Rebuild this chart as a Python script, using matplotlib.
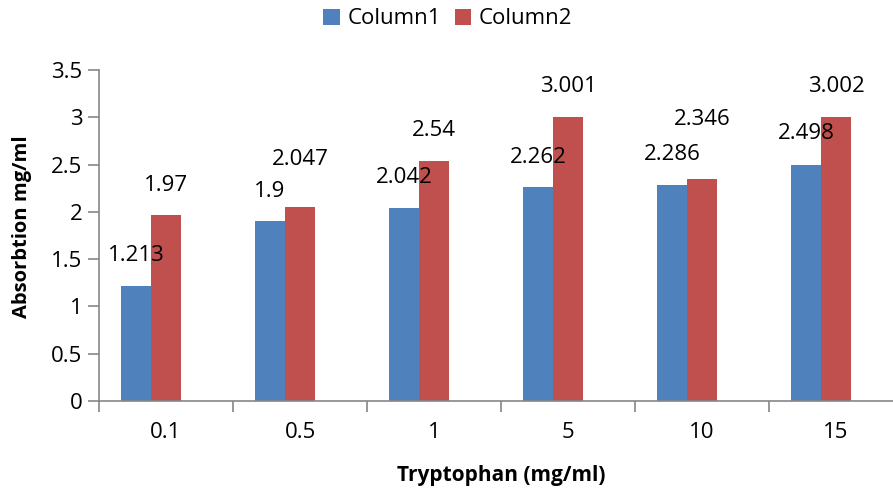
import numpy as np
import matplotlib.pyplot as plt

plt.rcParams['font.family'] = ['Open Sans', 'DejaVu Sans']

# data
categories = ["0.1", "0.5", "1", "5", "10", "15"]
column1 = [1.213, 1.9, 2.042, 2.262, 2.286, 2.498]
column2 = [1.97, 2.047, 2.54, 3.001, 2.346, 3.002]

# label lift above bar top (pixels); two labels were dragged higher in the original
c1_dy = [31, 30, 30, 30, 30, 31]
c2_dy = [29, 48, 30, 31, 60, 31]

blue = "#4F81BD"
red = "#C0504D"
grey = "#868686"

fig = plt.figure(figsize=(8.93, 4.91), dpi=100)
ax = fig.add_axes([99 / 893, 1 - 401 / 491, 804 / 893, 331 / 491])

x = np.arange(len(categories))
w = 0.224
# red bar sits on the category centre, blue to the left of it
b1 = ax.bar(x - w, column1, w, color=blue, label="Column1")
b2 = ax.bar(x, column2, w, color=red, label="Column2")

for bars, vals, dys in [(b1, column1, c1_dy), (b2, column2, c2_dy)]:
    for r, v, dy in zip(bars, vals, dys):
        ax.annotate(f"{v:g}", (r.get_x() + r.get_width() / 2, v),
                    xytext=(0, dy), textcoords="offset pixels",
                    ha="center", va="center", fontsize=16, color="black")

ax.set_xlim(-0.5, len(categories) - 0.5)
ax.set_ylim(0, 3.5)
ax.set_yticks(np.arange(0, 3.51, 0.5))
ax.set_yticklabels(["0", "0.5", "1", "1.5", "2", "2.5", "3", "3.5"])
ax.set_xticks(x)
ax.set_xticklabels(categories)
ax.set_xticks(np.arange(-0.5, len(categories)), minor=True)
ax.tick_params(axis="x", which="major", length=0, pad=15, labelsize=16)
ax.tick_params(axis="x", which="minor", length=8, color=grey, width=1.2)
ax.tick_params(axis="y", length=8, color=grey, width=1.2, labelsize=16, pad=4)

for s in ["top", "right"]:
    ax.spines[s].set_visible(False)
for s in ["left", "bottom"]:
    ax.spines[s].set_color(grey)
    ax.spines[s].set_linewidth(1.2)

ax.set_ylabel("Absorbtion mg/ml", fontsize=14.5, fontweight="bold")
ax.yaxis.set_label_coords(-67 / 804, 0.526)
ax.set_xlabel("Tryptophan (mg/ml)", fontsize=15, fontweight="bold")
ax.xaxis.set_label_coords(0.5, -64 / 331)

fig.legend(handles=[b1, b2], labels=["Column1", "Column2"], loc="center",
           bbox_to_anchor=(448 / 893, 1 - 19 / 491), ncol=2, frameon=False,
           fontsize=16, handlelength=0.75, handleheight=0.75, handletextpad=0.35,
           columnspacing=0.6)

fig.savefig("out.png", dpi=100)
